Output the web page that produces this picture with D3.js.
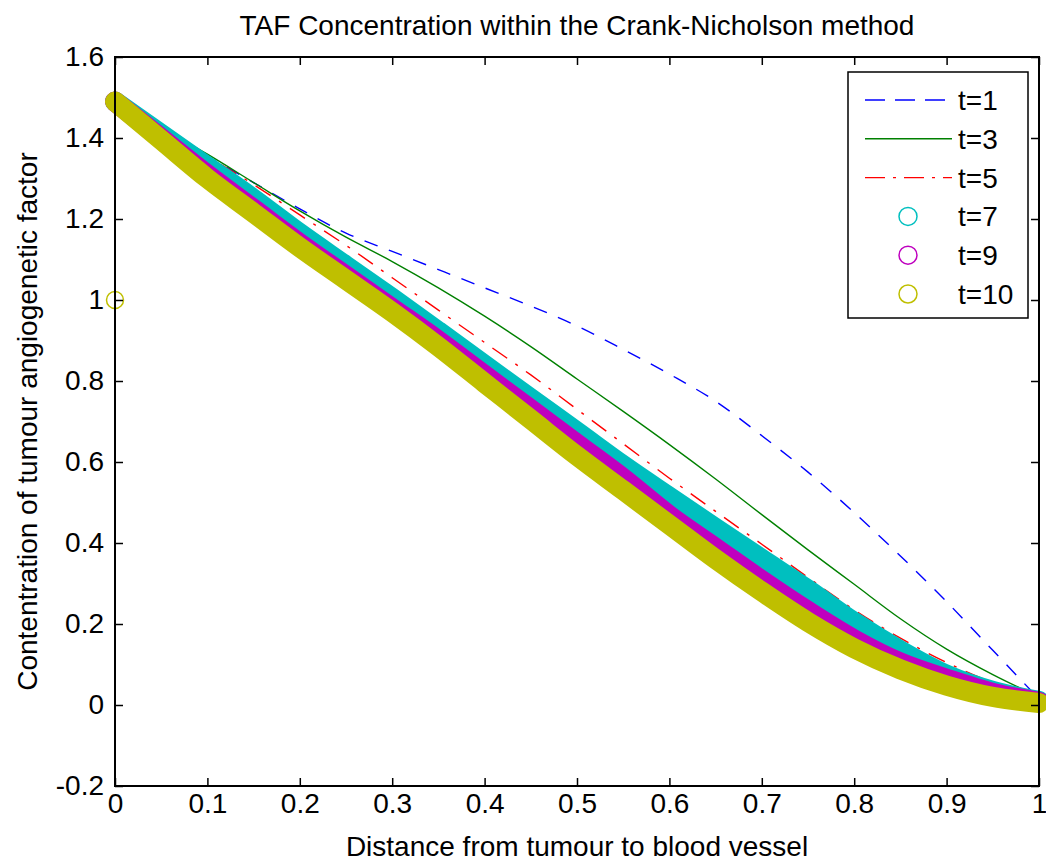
<!DOCTYPE html>
<html><head><meta charset="utf-8">
<script src="https://cdn.jsdelivr.net/npm/d3@7"></script>
<style>body{margin:0;background:#fff} text{font-family:"Liberation Sans",Arial,Helvetica,sans-serif;fill:#000}</style>
</head><body><svg id="c" width="1046" height="861"></svg>
<script>
// ---- data ----
const xValues = [0,0.05,0.1,0.15,0.2,0.25,0.3,0.35,0.4,0.45,0.5,0.55,0.6,0.65,0.7,0.75,0.8,0.85,0.9,0.95,1];
const seriesNames = ["t=1","t=3","t=5","t=7","t=9","t=10"];
const t1  = [1.49,1.42,1.355,1.29,1.225,1.165,1.12,1.075,1.03,0.985,0.936,0.878,0.817,0.75,0.665,0.575,0.475,0.368,0.255,0.135,0.015];
const t3  = [1.49,1.425,1.36,1.29,1.22,1.155,1.095,1.03,0.96,0.885,0.805,0.725,0.643,0.558,0.47,0.383,0.298,0.213,0.138,0.075,0.02];
const t5  = [1.49,1.425,1.355,1.285,1.21,1.135,1.055,0.975,0.895,0.815,0.73,0.645,0.56,0.478,0.397,0.315,0.235,0.165,0.105,0.055,0.015];
const t7  = [1.49,1.41,1.33,1.25,1.165,1.085,1.005,0.923,0.84,0.757,0.675,0.592,0.514,0.437,0.361,0.285,0.205,0.135,0.075,0.035,0.01];
const t9  = [1.49,1.40,1.31,1.225,1.14,1.06,0.98,0.90,0.815,0.73,0.645,0.56,0.468,0.388,0.308,0.232,0.162,0.105,0.065,0.03,0.008];
const t10 = [1.49,1.395,1.30,1.215,1.13,1.05,0.97,0.885,0.795,0.705,0.615,0.53,0.445,0.36,0.28,0.205,0.14,0.088,0.048,0.02,0.005];
const t10Outlier = [[0, 1.0]];
const xTicks = [0,0.1,0.2,0.3,0.4,0.5,0.6,0.7,0.8,0.9,1];
const xTickLabels = ["0","0.1","0.2","0.3","0.4","0.5","0.6","0.7","0.8","0.9","1"];
const yTicks = [-0.2,0,0.2,0.4,0.6,0.8,1,1.2,1.4,1.6];
const yTickLabels = ["-0.2","0","0.2","0.4","0.6","0.8","1","1.2","1.4","1.6"];
const titleText = "TAF Concentration within the Crank-Nicholson method";
const xLabelText = "Distance from tumour to blood vessel";
const yLabelText = "Contentration of tumour angiogenetic factor";

// ---- layout / style ----
const L = 115, R = 1039, T = 57, B = 786;
const FS = 28;
const styles = [
  {kind:"line", color:"#0000ff", dash:"14,12", legendDash:"20,10"},
  {kind:"line", color:"#008000", dash:null, legendDash:null},
  {kind:"line", color:"#ff0000", dash:"18,10,3,10", legendDash:"20,8,3,8"},
  {kind:"marker", color:"#00bfbf"},
  {kind:"marker", color:"#bf00bf"},
  {kind:"marker", color:"#bfbf00"}
];
const allSeries = [t1,t3,t5,t7,t9,t10];

const svg = d3.select("#c");
const x = d3.scaleLinear().domain([0,1]).range([L,R]);
const y = d3.scaleLinear().domain([-0.2,1.6]).range([B,T]);

svg.append("rect").attr("width",1046).attr("height",861).attr("fill","#fff");

const line = d3.line().x(d=>x(d[0])).y(d=>y(d[1])).curve(d3.curveMonotoneX);

allSeries.forEach((vals,i)=>{
  const st = styles[i];
  const pts = xValues.map((xv,j)=>[xv, vals[j]]);
  const p = svg.append("path").datum(pts).attr("d",line).attr("fill","none")
    .attr("stroke",st.color).attr("stroke-linejoin","round");
  if(st.kind==="line"){
    p.attr("stroke-width",1.4);
    if(st.dash) p.attr("stroke-dasharray",st.dash);
  } else {
    p.attr("stroke-width",20).attr("stroke-linecap","round");
  }
});
svg.selectAll("circle.out").data(t10Outlier).join("circle").attr("class","out")
  .attr("cx",d=>x(d[0])).attr("cy",d=>y(d[1])).attr("r",8.5)
  .attr("fill","none").attr("stroke",styles[5].color).attr("stroke-width",1.5);

// axes
const ax = (g)=>g.selectAll(".domain").remove();
svg.append("g").attr("transform",`translate(0,${B})`)
  .call(d3.axisBottom(x).tickValues(xTicks).tickFormat((d,i)=>xTickLabels[i]).tickSizeInner(-8).tickSizeOuter(0).tickPadding(7))
  .call(ax).call(g=>g.selectAll("text").attr("font-size",FS).attr("font-family",null))
  .call(g=>g.selectAll("line").attr("stroke","#000").attr("stroke-width",1.5));
svg.append("g").attr("transform",`translate(0,${T})`)
  .call(d3.axisTop(x).tickValues(xTicks).tickFormat("").tickSizeInner(-8).tickSizeOuter(0))
  .call(ax).call(g=>g.selectAll("line").attr("stroke","#000").attr("stroke-width",1.5));
svg.append("g").attr("transform",`translate(${L},0)`)
  .call(d3.axisLeft(y).tickValues(yTicks).tickFormat((d,i)=>yTickLabels[i]).tickSizeInner(-8).tickSizeOuter(0).tickPadding(11))
  .call(ax).call(g=>g.selectAll("text").attr("font-size",FS).attr("font-family",null))
  .call(g=>g.selectAll("line").attr("stroke","#000").attr("stroke-width",1.5));
svg.append("g").attr("transform",`translate(${R},0)`)
  .call(d3.axisRight(y).tickValues(yTicks).tickFormat("").tickSizeInner(-8).tickSizeOuter(0))
  .call(ax).call(g=>g.selectAll("line").attr("stroke","#000").attr("stroke-width",1.5));
svg.append("rect").attr("x",L).attr("y",T).attr("width",R-L).attr("height",B-T)
  .attr("fill","none").attr("stroke","#000").attr("stroke-width",2);

// labels
svg.append("text").attr("x",(L+R)/2).attr("y",35).attr("text-anchor","middle").attr("font-size",FS).text(titleText);
svg.append("text").attr("x",(L+R)/2).attr("y",856).attr("text-anchor","middle").attr("font-size",FS).text(xLabelText);
svg.append("text").attr("transform",`translate(37,${(T+B)/2}) rotate(-90)`).attr("text-anchor","middle").attr("font-size",FS).text(yLabelText);

// legend
const lg = svg.append("g");
lg.append("rect").attr("x",848).attr("y",72).attr("width",180).attr("height",246)
  .attr("fill","#fff").attr("stroke","#000").attr("stroke-width",1.5);
seriesNames.forEach((name,i)=>{
  const cy = 100 + i*38.8, st = styles[i];
  if(st.kind==="line"){
    const l = lg.append("line").attr("x1",865).attr("x2",952).attr("y1",cy).attr("y2",cy)
      .attr("stroke",st.color).attr("stroke-width",1.4);
    if(st.legendDash) l.attr("stroke-dasharray",st.legendDash);
  } else {
    lg.append("circle").attr("cx",908).attr("cy",cy).attr("r",9).attr("fill","none")
      .attr("stroke",st.color).attr("stroke-width",1.5);
  }
  lg.append("text").attr("x",958).attr("y",cy).attr("dy","0.36em").attr("font-size",FS).text(name);
});
</script></body></html>
